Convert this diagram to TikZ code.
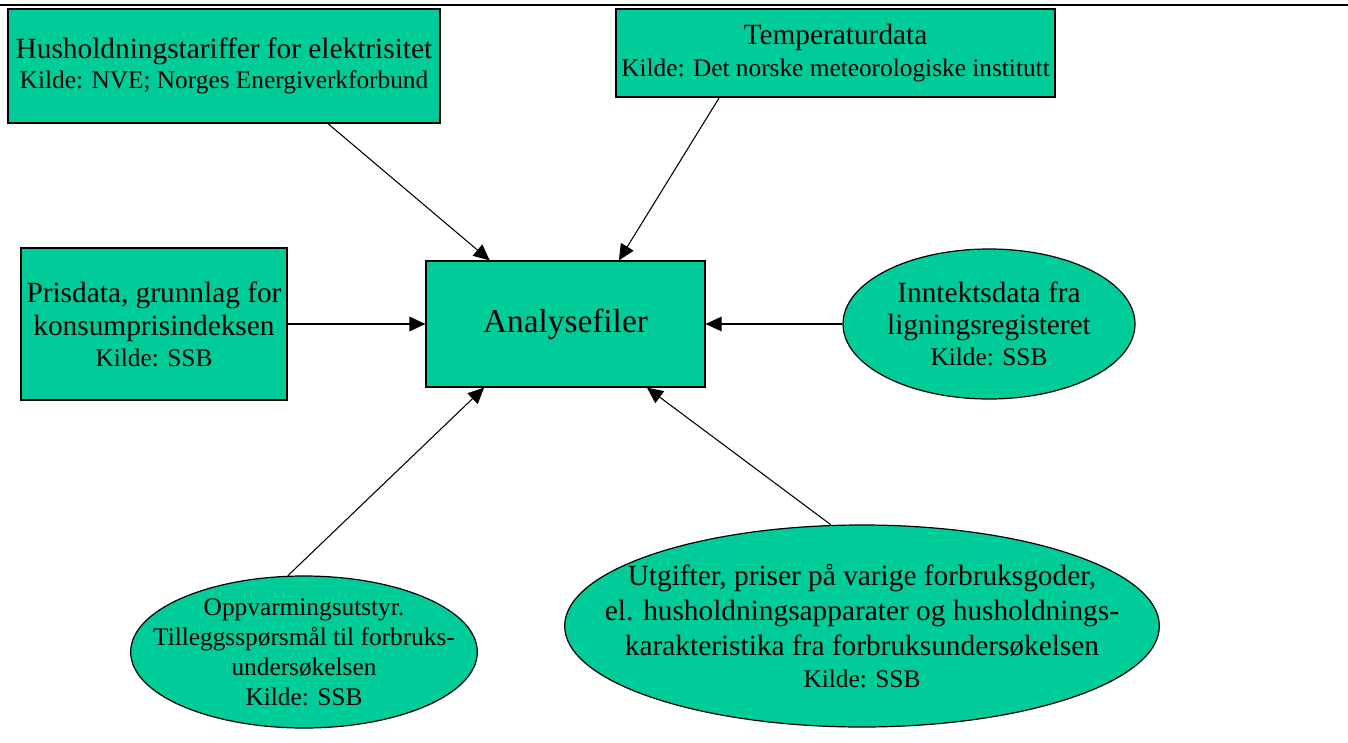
\documentclass[tikz,border=0pt]{standalone}
\usepackage{fontspec}
\setmainfont{Liberation Serif}
\usetikzlibrary{shapes.geometric,arrows.meta}
\definecolor{srcGreen}{RGB}{0,204,153}
\newcommand{\bigLine}{\fontsize{22}{26}\selectfont}
\newcommand{\smallLine}{\fontsize{19}{22.5}\selectfont}

\begin{document}
\begin{tikzpicture}[x=0.75pt,y=-0.75pt,
        srcBox/.style = {draw=black,line width=0.9pt,fill=srcGreen,align=center,inner sep=0pt,font=\bigLine},
        srcOval/.style = {shape=ellipse,draw=black,line width=0.9pt,fill=srcGreen,align=center,inner sep=0pt,font=\bigLine},
        feedArrow/.style = {line width=0.8pt,-{Triangle[length=12pt,width=11pt]}}
        ]
        \useasboundingbox (0,0) rectangle (1348,742);
        \draw[line width=2pt] (0,5) -- (1348,5);
        % sources
        \node[srcBox,minimum width=324pt,minimum height=85.5pt] (tariff) at (224,66)
            {Husholdningstariffer for elektrisitet\\[-3pt] \smallLine Kilde: NVE; Norges Energiverkforbund};
        \node[srcBox,minimum width=329.25pt,minimum height=66pt] (temp) at (835.5,53)
            {Temperaturdata\\[-2pt] \smallLine Kilde: Det norske meteorologiske institutt};
        \node[srcBox,minimum width=199.5pt,minimum height=114pt] (pris) at (154,324)
            {Prisdata, grunnlag for\\[-1pt] konsumprisindeksen\\[-3pt] \smallLine Kilde: SSB};
        \node[srcOval,minimum width=219pt,minimum height=112.5pt] (inntekt) at (989,324)
            {Inntektsdata fra\\[-2pt] ligningsregisteret\\[-3pt] \smallLine Kilde: SSB};
        \node[srcOval,font=\smallLine,minimum width=260pt,minimum height=114pt,inner xsep=-34pt,inner ysep=-4pt] (oppvarm) at (304,652)
            {Oppvarmingsutstyr.\\ Tilleggsspørsmål til forbruks-\\ undersøkelsen\\ Kilde: SSB};
        \node[srcOval,minimum width=446pt,minimum height=151.5pt,inner xsep=-46.5pt,inner ysep=-2pt] (utgift) at (862,626)
            {Utgifter, priser på varige forbruksgoder,\\ el. husholdningsapparater og husholdnings-\\ karakteristika fra forbruksundersøkelsen\\[-2pt] \smallLine Kilde: SSB};
        % target
        \node[srcBox,font=\fontsize{25}{30}\selectfont,minimum width=209.25pt,minimum height=94.5pt] (analyse) at (565.5,324)
            {Analysefiler};
        % arrows
        \draw[feedArrow] (tariff.-29.4) -- (analyse.140.9);
        \draw[feedArrow] (temp.-159.8) -- (analyse.50.7);
        \draw[feedArrow] (pris.east) -- (analyse.west);
        \draw[feedArrow] (inntekt.west) -- (analyse.east);
        \draw[feedArrow] (oppvarm.102.8) -- (analyse.218.7);
        \draw[feedArrow] (utgift.107.7) -- (analyse.-38.4);
    \end{tikzpicture}
\end{document}
